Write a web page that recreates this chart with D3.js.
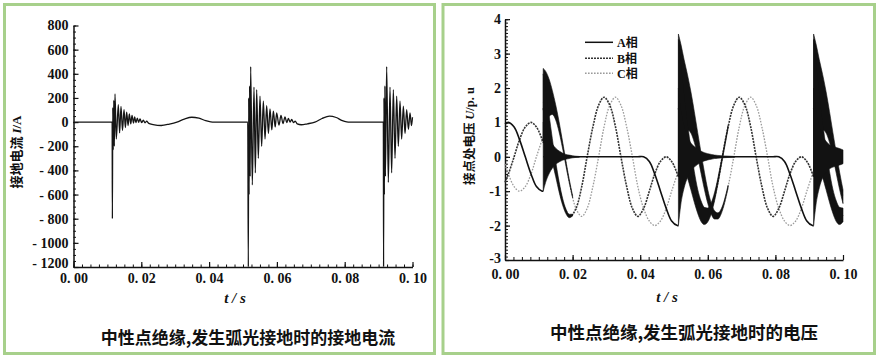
<!DOCTYPE html>
<html><head><meta charset="utf-8">
<script src="https://cdn.jsdelivr.net/npm/d3@7"></script>
<style>
html,body{margin:0;padding:0;background:#fff;}
svg{display:block;}
.num{font-family:"Liberation Serif","Times New Roman",serif;font-weight:bold;font-size:14px;fill:#111;}
.cjk{font-family:"Noto Sans CJK SC","Noto Sans",sans-serif;fill:#111;}
</style></head><body>
<svg id="chart" width="879" height="360"></svg>
<script>
// ---------- Left chart: ground current I (A) ----------
const currentTicks = [-1200, -1000, -800, -600, -400, -200, 0, 200, 400, 600, 800];
const timeTicks = [0, 0.02, 0.04, 0.06, 0.08, 0.10];
const currentLead = [[0, 0], [0.0114, 0]];
const currentBurst1 = [
  [0.01147, -800], [0.01158, 120], [0.01172, -230], [0.01188, 180], [0.01204, -200], [0.01224, 233],
  [0.01262, -140], [0.01322, 145], [0.01360, -90], [0.01401, 130], [0.01445, -70], [0.0149, 104],
  [0.0153, -45], [0.01568, 82], [0.0161, -28], [0.01647, 68], [0.0169, -15], [0.01726, 55],
  [0.0177, -8], [0.01804, 44], [0.0184, -4], [0.01883, 33], [0.0192, -2], [0.01962, 27],
  [0.0201, -4], [0.0206, 16], [0.0211, -6], [0.02158, 8], [0.0222, -10]
];
const currentWave1 = [[0.0235, -20], [0.0259, -28], [0.0283, -16], [0.0305, 0], [0.0327, 25], [0.0349, 40],
  [0.0370, 32], [0.0390, 12], [0.0405, 2], [0.0415, 0], [0.0514, 0]];
const currentBurst2 = [
  [0.05157, -1200], [0.05168, 200], [0.05180, -600], [0.05195, 300], [0.05210, -450], [0.05226, 460],
  [0.05275, -520], [0.05324, 290], [0.05364, -420], [0.05403, 268], [0.05452, -300], [0.05501, 214],
  [0.0555, -200], [0.056, 173], [0.0565, -140], [0.05698, 137], [0.0575, -95], [0.05796, 110],
  [0.0585, -65], [0.05895, 90], [0.0595, -40], [0.05993, 77], [0.0606, -25], [0.06121, 55],
  [0.0618, -12], [0.06239, 44], [0.0629, -5], [0.06337, 30], [0.0639, 0], [0.06436, 22], [0.0649, -5], [0.0654, 8]
];
const currentWave2 = [[0.0660, -15], [0.0672, -22], [0.0690, -14], [0.0712, 0], [0.0733, 30], [0.0755, 50],
  [0.0775, 38], [0.0793, 12], [0.0806, 2], [0.0815, 0], [0.0914, 0]];
const currentBurst3 = [
  [0.09147, -1200], [0.09158, 200], [0.0917, -600], [0.09185, 300], [0.092, -450], [0.09238, 460],
  [0.09287, -500], [0.09336, 290], [0.09385, -420], [0.09435, 268], [0.09484, -300], [0.09533, 214],
  [0.09582, -200], [0.09631, 173], [0.0968, -140], [0.0973, 132], [0.0978, -95], [0.09828, 104],
  [0.0988, -60], [0.09926, 77], [0.0997, -30], [0.1, 40]
];

// ---------- Right chart: phase voltages (p.u.) ----------
const voltTicks = [-3, -2, -1, 0, 1, 2, 3, 4];
const phaseNames = ["A相", "B相", "C相"];
const voltTime = [0, 0.0010, 0.0027, 0.0043, 0.0060, 0.0077, 0.0093, 0.0110, 0.0113,
  0.0113, 0.0127, 0.0143, 0.0160, 0.0177, 0.0193, 0.0210, 0.0227, 0.0243, 0.0260, 0.0277, 0.0293, 0.0310,
  0.0327, 0.0343, 0.0360, 0.0377, 0.0393, 0.0410, 0.0427, 0.0443, 0.0460, 0.0477, 0.0493, 0.0510, 0.0513,
  0.0513, 0.0527, 0.0543, 0.0560, 0.0577, 0.0593, 0.0610, 0.0627, 0.0643, 0.0660, 0.0677, 0.0693, 0.0710,
  0.0727, 0.0743, 0.0760, 0.0777, 0.0793, 0.0810, 0.0827, 0.0843, 0.0860, 0.0877, 0.0893, 0.0910, 0.0913,
  0.0913, 0.0927, 0.0943, 0.0960, 0.0977, 0.0993, 0.1000];
const phaseA = [0.951, 1, 0.866, 0.5, 0, -0.5, -0.866, -1, -0.996,
  0, 0, 0, 0, 0, 0, 0, 0, 0, 0, 0, 0, 0, 0, 0, 0, 0, 0, 0, -0.134, -0.5, -1, -1.5, -1.866, -2, -1.996,
  0, 0, 0, 0, 0, 0, 0, 0, 0, 0, 0, 0, 0, 0, 0, 0, 0, 0, 0, -0.134, -0.5, -1, -1.5, -1.866, -2, -1.996,
  0, 0, 0, 0, 0, 0, 0];
const phaseB = [-0.743, -0.5, 0, 0.5, 0.866, 1, 0.866, 0.5, 0.416,
  1.411, 0.866, 0, -0.866, -1.5, -1.732, -1.5, -0.866, 0, 0.866, 1.5, 1.732, 1.5, 0.866, 0, -0.866, -1.5, -1.732, -1.5, -1, -0.5, -0.134, 0, -0.134, -0.5, -0.584,
  1.411, 0.866, 0, -0.866, -1.5, -1.732, -1.5, -0.866, 0, 0.866, 1.5, 1.732, 1.5, 0.866, 0, -0.866, -1.5, -1.732, -1.5, -1, -0.5, -0.134, 0, -0.134, -0.5, -0.584,
  1.411, 0.866, 0, -0.866, -1.5, -1.732, -1.694];
const phaseC = [-0.208, -0.5, -0.866, -1, -0.866, -0.5, 0, 0.5, 0.579,
  1.575, 1.732, 1.5, 0.866, 0, -0.866, -1.5, -1.732, -1.5, -0.866, 0, 0.866, 1.5, 1.732, 1.5, 0.866, 0, -0.866, -1.5, -1.866, -2, -1.866, -1.5, -1, -0.5, -0.421,
  1.575, 1.732, 1.5, 0.866, 0, -0.866, -1.5, -1.732, -1.5, -0.866, 0, 0.866, 1.5, 1.732, 1.5, 0.866, 0, -0.866, -1.5, -1.866, -2, -1.866, -1.5, -1, -0.5, -0.421,
  1.575, 1.732, 1.5, 0.866, 0, -0.866, -1.159];
// high-frequency oscillation envelopes after each arc strike: [t, low, high]
const burstA = [
  [[0.0113,-1.0,1.0],[0.012,-0.75,0.8],[0.013,-0.5,0.55],[0.014,-0.33,0.37],[0.015,-0.22,0.25],[0.016,-0.15,0.17],[0.017,-0.1,0.11],[0.018,-0.07,0.07],[0.019,-0.05,0.05],[0.020,-0.03,0.03],[0.022,-0.01,0.01]],
  [[0.0513,-2.0,2.0],[0.052,-1.4,1.4],[0.053,-0.9,0.9],[0.054,-0.6,0.6],[0.055,-0.4,0.4],[0.056,-0.3,0.3],[0.057,-0.22,0.22],[0.058,-0.16,0.16],[0.059,-0.12,0.12],[0.060,-0.09,0.09],[0.061,-0.07,0.07],[0.062,-0.05,0.05],[0.063,-0.04,0.04],[0.065,-0.025,0.025],[0.068,-0.01,0.01]],
  [[0.0913,-2.0,2.0],[0.092,-1.4,1.4],[0.093,-0.9,0.9],[0.094,-0.6,0.6],[0.095,-0.45,0.45],[0.096,-0.35,0.35],[0.097,-0.3,0.3],[0.098,-0.27,0.27],[0.099,-0.24,0.24],[0.1,-0.2,0.2]]
];
const burstB = [
  [[0.0113,0.41,2.41],[0.012,0.36,1.96],[0.013,0.15,1.25],[0.014,-0.17,0.53],[0.015,-0.58,-0.14],[0.016,-1.02,-0.72],[0.017,-1.39,-1.19],[0.018,-1.65,-1.51],[0.019,-1.77,-1.67],[0.020,-1.72,-1.67]],
  [[0.0513,-0.58,3.41],[0.052,-0.44,2.76],[0.053,-0.40,1.80],[0.054,-0.62,0.98],[0.055,-0.96,0.24],[0.056,-1.32,-0.42],[0.057,-1.64,-0.94],[0.058,-1.88,-1.28],[0.059,-1.97,-1.47],[0.060,-1.89,-1.49],[0.061,-1.66,-1.34],[0.062,-1.28,-1.04],[0.063,-0.79,-0.61],[0.064,-0.25,-0.11],[0.066,0.83,0.91]],
  [[0.0913,-0.58,3.41],[0.092,-0.44,2.76],[0.093,-0.40,1.80],[0.094,-0.62,0.98],[0.095,-0.96,0.24],[0.096,-1.32,-0.42],[0.097,-1.64,-0.94],[0.098,-1.88,-1.28],[0.099,-1.97,-1.47],[0.1,-1.89,-1.49]]
];
const burstC = [
  [[0.0113,0.58,2.57],[0.012,0.89,2.49],[0.013,1.17,2.27],[0.014,1.23,1.93],[0.015,1.07,1.51],[0.016,0.72,1.02],[0.017,0.26,0.46],[0.018,-0.25,-0.11],[0.019,-0.75,-0.65],[0.020,-1.19,-1.13]],
  [[0.0513,-0.42,3.57],[0.052,0.09,3.29],[0.053,0.62,2.82],[0.054,0.78,2.38],[0.055,0.69,1.89],[0.056,0.42,1.32],[0.057,0.01,0.71],[0.058,-0.48,0.12],[0.059,-0.95,-0.45],[0.060,-1.36,-0.96],[0.061,-1.66,-1.34],[0.062,-1.81,-1.57],[0.063,-1.81,-1.63],[0.064,-1.65,-1.51],[0.066,-0.91,-0.83]],
  [[0.0913,-0.42,3.57],[0.092,0.09,3.29],[0.093,0.62,2.82],[0.094,0.78,2.38],[0.095,0.69,1.89],[0.096,0.42,1.32],[0.097,0.01,0.71],[0.098,-0.48,0.12],[0.099,-0.95,-0.45],[0.1,-1.36,-0.96]]
];

// ---------- drawing ----------
const svg = d3.select("#chart");
const green = "#a7d08b";
svg.append("rect").attr("x", 4.5).attr("y", 4.5).attr("width", 430).attr("height", 349)
  .attr("fill", "#fff").attr("stroke", green).attr("stroke-width", 3);
svg.append("rect").attr("x", 443).attr("y", 4.5).attr("width", 431.5).attr("height", 349)
  .attr("fill", "#fff").attr("stroke", green).attr("stroke-width", 3);

function styleAxis(g) {
  g.selectAll(".domain").attr("stroke", "#111").attr("stroke-width", 1.5);
  g.selectAll(".tick line").attr("stroke", "#111").attr("stroke-width", 1.2);
  g.selectAll("text").attr("class", "num");
}
function minorAxis(g) {
  g.select(".domain").remove();
  g.selectAll(".tick line").attr("stroke", "#111").attr("stroke-width", 1);
}
const timeFmt = d => d3.format(".2f")(d).replace(".", ". ");

// Left chart
const xL = d3.scaleLinear().domain([0, 0.1]).range([73.5, 412.5]);
const yL = d3.scaleLinear().domain([-1200, 800]).range([267, 25.5]);
const gL = svg.append("g");
gL.append("g").attr("transform", `translate(${xL(0)},0)`)
  .call(d3.axisLeft(yL).tickValues(d3.range(-1200, 801, 50)).tickSize(-2.5).tickFormat("")).call(minorAxis);
gL.append("g").attr("transform", `translate(0,${yL(-1200)})`)
  .call(d3.axisBottom(xL).tickValues(d3.range(0, 0.1001, 0.0025)).tickSize(-2.5).tickFormat("")).call(minorAxis);
const yAxL = gL.append("g").attr("transform", `translate(${xL(0)},0)`)
  .call(d3.axisLeft(yL).tickValues(currentTicks).tickSize(-5).tickSizeOuter(0).tickPadding(5)
    .tickFormat(d => d < 0 ? "- " + (-d) : String(d))).call(styleAxis);
yAxL.selectAll(".tick").filter(d => d === -1200).select("text").attr("y", -4);
gL.append("g").attr("transform", `translate(0,${yL(-1200)})`)
  .call(d3.axisBottom(xL).tickValues(timeTicks).tickSize(-5).tickSizeOuter(0).tickPadding(6).tickFormat(timeFmt)).call(styleAxis);

const currentAll = [].concat(currentLead, currentBurst1, currentWave1, currentBurst2, currentWave2, currentBurst3);
gL.append("path").datum(currentAll)
  .attr("d", d3.line().x(d => xL(d[0])).y(d => yL(d[1])).curve(d3.curveMonotoneX))
  .attr("fill", "none").attr("stroke", "#151515").attr("stroke-width", 1.3);

const ylabL = gL.append("text").attr("class", "cjk").attr("transform", "translate(21,152) rotate(-90)")
  .attr("text-anchor", "middle").attr("font-size", 13).attr("font-weight", 700);
ylabL.append("tspan").text("接地电流 ");
ylabL.append("tspan").attr("font-style", "italic").attr("font-family", "Liberation Serif").text("I");
ylabL.append("tspan").attr("font-family", "Liberation Serif").text("/A");
gL.append("text").attr("x", 235).attr("y", 303).attr("text-anchor", "middle")
  .attr("class", "num").style("font-style", "italic").style("font-size", "15px").text("t / s");
gL.append("text").attr("class", "cjk").attr("x", 248).attr("y", 344).attr("text-anchor", "middle")
  .attr("font-size", 17).attr("font-weight", 700).text("中性点绝缘,发生弧光接地时的接地电流");

// Right chart
const xR = d3.scaleLinear().domain([0, 0.1]).range([505, 843]);
const yR = d3.scaleLinear().domain([-3, 4]).range([260, 19.2]);
const gR = svg.append("g");
gR.append("g").attr("transform", `translate(${xR(0)},0)`)
  .call(d3.axisLeft(yR).tickValues(d3.range(-3, 4.001, 0.1)).tickSize(-3).tickFormat("")).call(minorAxis);
gR.append("g").attr("transform", `translate(0,${yR(-3)})`)
  .call(d3.axisBottom(xR).tickValues(d3.range(0, 0.1001, 0.0025)).tickSize(-3).tickFormat("")).call(minorAxis);
const yAxR = gR.append("g").attr("transform", `translate(${xR(0)},0)`)
  .call(d3.axisLeft(yR).tickValues(voltTicks).tickSize(-5).tickSizeOuter(0).tickPadding(4)
    .tickFormat(d => d < 0 ? "-" + (-d) : String(d))).call(styleAxis);
yAxR.selectAll(".tick").filter(d => d === -3).select("text").attr("y", -2);
gR.append("g").attr("transform", `translate(0,${yR(-3)})`)
  .call(d3.axisBottom(xR).tickValues(timeTicks).tickSize(-5).tickSizeOuter(0).tickPadding(9).tickFormat(timeFmt)).call(styleAxis);

function segments(times, vals) {
  const segs = []; let cur = [];
  times.forEach((t, i) => {
    if (i > 0 && t === times[i - 1]) { segs.push(cur); cur = []; }
    cur.push([t, vals[i]]);
  });
  segs.push(cur);
  return segs;
}
const vLine = d3.line().x(d => xR(d[0])).y(d => yR(d[1])).curve(d3.curveCatmullRom.alpha(0.5));
const phaseStyles = [
  {vals: phaseC, color: "#9a9a9a", dash: "1.6,1.4", w: 1.3},
  {vals: phaseB, color: "#333", dash: "2,1", w: 1.6},
  {vals: phaseA, color: "#111", dash: null, w: 1.6}
];
phaseStyles.forEach(p => {
  gR.selectAll(null).data(segments(voltTime, p.vals)).enter().append("path")
    .attr("d", vLine).attr("fill", "none").attr("stroke", p.color)
    .attr("stroke-width", p.w).attr("stroke-dasharray", p.dash);
});
const burstArea = d3.area().x(d => xR(d[0])).y0(d => yR(d[1])).y1(d => yR(d[2])).curve(d3.curveMonotoneX);
[burstC, burstB, burstA].forEach(bs => {
  gR.selectAll(null).data(bs).enter().append("path")
    .attr("d", burstArea).attr("fill", "#121212").attr("stroke", "#121212").attr("stroke-width", 0.6);
});

// legend
const legY = [42.3, 58.3, 73.3];
const legStyles = [{c: "#111", d: null}, {c: "#333", d: "2,1"}, {c: "#9a9a9a", d: "1.6,1.4"}];
phaseNames.forEach((n, i) => {
  gR.append("line").attr("x1", 585).attr("x2", 613).attr("y1", legY[i]).attr("y2", legY[i])
    .attr("stroke", legStyles[i].c).attr("stroke-width", 1.5).attr("stroke-dasharray", legStyles[i].d);
  gR.append("text").attr("x", 617).attr("y", legY[i] + 4.5)
    .style("font-family", '"Liberation Serif","Noto Sans CJK SC",serif')
    .attr("font-size", 12).attr("font-weight", 700).attr("fill", "#111").text(n);
});

const ylabR = gR.append("text").attr("class", "cjk").attr("transform", "translate(474,136) rotate(-90)")
  .attr("text-anchor", "middle").attr("font-size", 12.5).attr("font-weight", 700);
ylabR.append("tspan").text("接点处电压 ");
ylabR.append("tspan").attr("font-style", "italic").attr("font-family", "Liberation Serif").text("U");
ylabR.append("tspan").attr("font-family", "Liberation Serif").text("/p. u");
gR.append("text").attr("x", 667).attr("y", 302).attr("text-anchor", "middle")
  .attr("class", "num").style("font-style", "italic").style("font-size", "15px").text("t / s");
gR.append("text").attr("class", "cjk").attr("x", 684).attr("y", 339).attr("text-anchor", "middle")
  .attr("font-size", 17.5).attr("font-weight", 700).text("中性点绝缘,发生弧光接地时的电压");
</script></body></html>
